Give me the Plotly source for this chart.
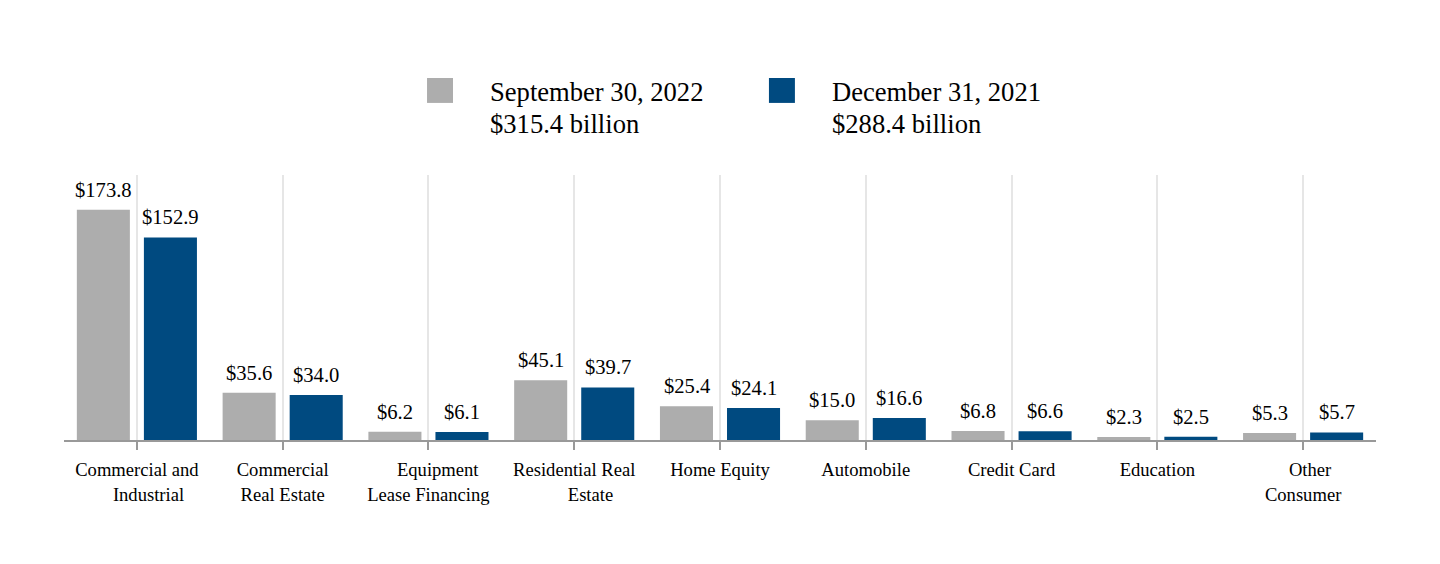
import plotly.graph_objects as go

categories = ["Commercial and Industrial", "Commercial Real Estate", "Equipment Lease Financing",
              "Residential Real Estate", "Home Equity", "Automobile", "Credit Card",
              "Education", "Other Consumer"]
tick_labels = ["Commercial and<br>\u00a0\u00a0\u00a0\u00a0\u00a0Industrial",
               "Commercial<br>Real Estate",
               "\u00a0\u00a0\u00a0\u00a0Equipment<br>Lease Financing",
               "Residential Real<br>\u00a0\u00a0\u00a0\u00a0\u00a0\u00a0\u00a0Estate",
               "Home Equity",
               "Automobile",
               "Credit Card",
               "Education",
               "\u00a0\u00a0\u00a0Other<br>Consumer"]
sep_2022 = [173.8, 35.6, 6.2, 45.1, 25.4, 15.0, 6.8, 2.3, 5.3]
dec_2021 = [152.9, 34.0, 6.1, 39.7, 24.1, 16.6, 6.6, 2.5, 5.7]
series_names = ["September 30, 2022", "December 31, 2021"]
series_totals = ["$315.4 billion", "$288.4 billion"]
colors = ["#ADADAD", "#004A80"]

FONT = "Liberation Serif"

fig = go.Figure()
for vals, name, col in zip([sep_2022, dec_2021], series_names, colors):
    fig.add_trace(go.Bar(
        x=categories, y=vals, name=name, marker_color=col, marker_line_width=0,
        showlegend=False, cliponaxis=False,
    ))

# value labels above the bars (offset a bit more than plotly's default text pad)
label_xshift = [-33.5, 33.5]
for s, vals in enumerate([sep_2022, dec_2021]):
    for cat, v in zip(categories, vals):
        fig.add_annotation(x=cat, y=v, xref="x", yref="y", text=f"${v:.1f}",
                           showarrow=False, xanchor="center", yanchor="bottom",
                           xshift=label_xshift[s], yshift=7,
                           font=dict(family=FONT, size=20.6, color="#000000"))

# custom legend (large square swatches)
leg_x0 = [0.2767, 0.5373]
sw_w = 0.0198
for i, (name, total, col) in enumerate(zip(series_names, series_totals, colors)):
    fig.add_shape(type="rect", xref="paper", yref="paper",
                  x0=leg_x0[i], x1=leg_x0[i] + sw_w, y0=1.272, y1=1.366,
                  fillcolor=col, line_width=0)
    fig.add_annotation(xref="paper", yref="paper", x=leg_x0[i] + 0.0465, y=1.3133,
                       text=name, showarrow=False, xanchor="left", yanchor="middle",
                       font=dict(family=FONT, size=26.6, color="#000000"))
    fig.add_annotation(xref="paper", yref="paper", x=leg_x0[i] + 0.0465, y=1.1925,
                       text=total, showarrow=False, xanchor="left", yanchor="middle",
                       font=dict(family=FONT, size=26.6, color="#000000"))

fig.update_layout(
    width=1440, height=564,
    margin=dict(l=56, r=72, t=167, b=132),
    paper_bgcolor="white", plot_bgcolor="white",
    barmode="group", bargap=0.08, bargroupgap=0.209,
    font=dict(family=FONT, color="#000000"),
)
fig.update_xaxes(
    tickmode="array", tickvals=categories, ticktext=tick_labels,
    range=[-0.5, len(categories) - 0.5],
    showgrid=True, gridcolor="#E6E6E6", gridwidth=1.5,
    showline=True, linecolor="#999999", linewidth=2,
    ticks="outside", ticklen=8, tickcolor="#999999", tickwidth=2,
    tickfont=dict(family=FONT, size=18.6, color="#000000"),
    ticklabelstandoff=4,
    tickangle=0,
)
fig.update_yaxes(range=[0, 200], visible=False, showgrid=False, zeroline=False)

fig.write_html("out.html")
